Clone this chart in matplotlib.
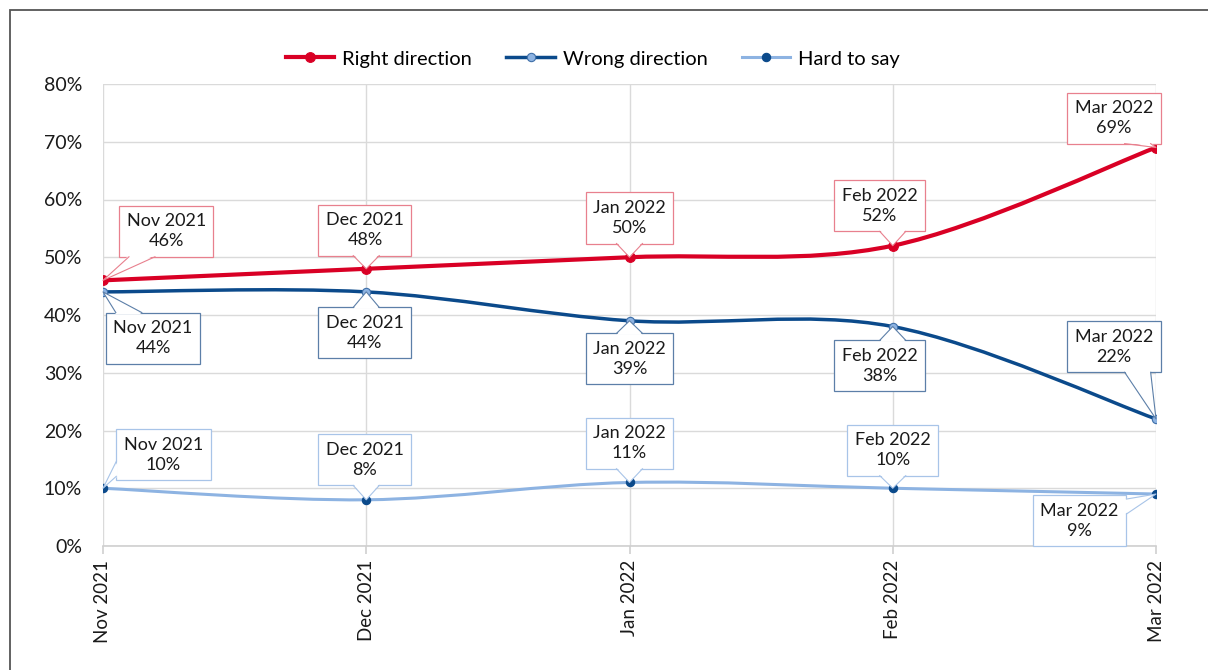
import matplotlib
matplotlib.use("Agg")
import matplotlib.pyplot as plt
from matplotlib.path import Path
from matplotlib.patches import PathPatch, Rectangle, Polygon
from matplotlib.lines import Line2D
import numpy as np

plt.rcParams['font.family'] = ['Lato', 'DejaVu Sans']

months = ["Nov 2021", "Dec 2021", "Jan 2022", "Feb 2022", "Mar 2022"]
right_direction = [46, 48, 50, 52, 69]
wrong_direction = [44, 44, 39, 38, 22]
hard_to_say = [10, 8, 11, 10, 9]
y_ticks = [0, 10, 20, 30, 40, 50, 60, 70, 80]

RED = "#D90025"
DARK = "#0B4A8B"
LIGHT = "#8DB3E2"

series = [
    ("Right direction", right_direction, RED, 3.0, RED, RED, "#E8808E"),
    ("Wrong direction", wrong_direction, DARK, 2.5, "#8DB3E2", "#3F6FA8", "#5C7FA8"),
    ("Hard to say", hard_to_say, LIGHT, 2.2, DARK, DARK, "#A8C4E8"),
]

# callout box centres (layout offsets, in data units)
callout_pos = [
    [(0.24, 54.5), (0.995, 54.7), (2.0, 56.8), (2.95, 58.9), (3.84, 74.1)],
    [(0.19, 36.0), (0.995, 36.9), (2.0, 32.4), (2.95, 31.2), (3.84, 34.5)],
    [(0.23, 15.8), (0.995, 14.9), (2.0, 17.8), (3.0, 16.6), (3.71, 4.4)],
]

fig = plt.figure(figsize=(12.08, 6.70), dpi=100)
fig.patches.append(Rectangle((10 / 1208, -0.1), 1.2, 1 - 10 / 670 + 0.1,
                             transform=fig.transFigure, fill=False,
                             ec="#555555", lw=1.3))
ax = fig.add_axes([103 / 1208, 1 - 546 / 670, (1156 - 103) / 1208, (546 - 84) / 670])

x = np.arange(len(months))


def smooth_path(xs, ys):
    pts = np.column_stack([xs, ys]).astype(float)
    n = len(pts)
    verts = [pts[0]]
    codes = [Path.MOVETO]
    for i in range(n - 1):
        p0 = pts[i - 1] if i > 0 else pts[i]
        p1 = pts[i]
        p2 = pts[i + 1]
        p3 = pts[i + 2] if i + 2 < n else pts[i + 1]
        c1 = p1 + (p2 - p0) / 6.0
        c2 = p2 - (p3 - p1) / 6.0
        verts += [c1, c2, p2]
        codes += [Path.CURVE4] * 3
    return Path(verts, codes)


handles = []
callouts = []
for (name, vals, col, lw, mfc, mec, boxc), cpos in zip(series, callout_pos):
    ax.add_patch(PathPatch(smooth_path(x, vals), fill=False, ec=col, lw=lw,
                           capstyle='round', joinstyle='round', zorder=3))
    ax.plot(x, vals, ls='none', marker='o', ms=7 if name == "Right direction" else 6,
            mfc=mfc, mec=mec, mew=0.8, zorder=4)
    handles.append(Line2D([], [], color=col, lw=lw, marker='o',
                          ms=7 if name == "Right direction" else 6,
                          mfc=mfc, mec=mec, mew=0.8))
    for xi, v, m, (bx, by) in zip(x, vals, months, cpos):
        t = ax.text(bx, by, f"{m}\n{v}%", ha='center', va='center', fontsize=13,
                    color="#1a1a1a", linespacing=1.3, zorder=6, clip_on=False,
                    bbox=dict(boxstyle="square,pad=0.42", fc='white', ec=boxc, lw=0.9))
        callouts.append((t, xi, v, boxc))

ax.set_xlim(0, len(months) - 1)
ax.set_ylim(0, 80)
ax.set_xticks(x)
ax.set_xticklabels(months, rotation=90, fontsize=13.5, color="#1a1a1a")
ax.set_yticks(y_ticks)
ax.set_yticklabels([f"{t}%" for t in y_ticks], fontsize=14, color="#1a1a1a")
ax.grid(True, color="#DADADA", lw=1.0)
ax.set_axisbelow(True)
for s in ['top', 'right', 'left']:
    ax.spines[s].set_visible(False)
ax.spines['bottom'].set_color("#CFCFCF")
ax.spines['bottom'].set_linewidth(1.2)
ax.tick_params(axis='y', length=0, pad=15)
ax.tick_params(axis='x', length=6, color="#CFCFCF", width=1.2, pad=4)

fig.legend(handles, [s[0] for s in series], loc='center', bbox_to_anchor=(593 / 1208, 1 - 59 / 670),
           ncol=3, frameon=False, fontsize=14.5, handlelength=2.4, columnspacing=1.7,
           handletextpad=0.4)

# callout pointers (wedges from box edge to the data point)
fig.canvas.draw()
renderer = fig.canvas.get_renderer()
inv = ax.transData.inverted()
BW, INSET, BH = 26.0, 10.0, 15.0
for t, xi, v, boxc in callouts:
    bb = t.get_bbox_patch().get_window_extent(renderer)
    px, py = ax.transData.transform((xi, v))
    dy_out = max(bb.y0 - py, py - bb.y1, 0)
    dx_out = max(bb.x0 - px, px - bb.x1, 0)
    if dy_out >= dx_out:
        ey = bb.y0 if py < bb.y0 else bb.y1
        cx = np.clip(px, bb.x0 + INSET + BW / 2, bb.x1 - INSET - BW / 2)
        b1, b2 = (cx - BW / 2, ey), (cx + BW / 2, ey)
        inward = (0, 1.5) if py < bb.y0 else (0, -1.5)
    else:
        ex = bb.x0 if px < bb.x0 else bb.x1
        cy = np.clip(py, bb.y0 + 4 + BH / 2, bb.y1 - 4 - BH / 2)
        b1, b2 = (ex, cy - BH / 2), (ex, cy + BH / 2)
        inward = (1.5, 0) if px < bb.x0 else (-1.5, 0)
    tri = np.array([b1, (px, py), b2])
    fill = np.array([(b1[0] + inward[0], b1[1] + inward[1]), (px, py),
                     (b2[0] + inward[0], b2[1] + inward[1])])
    ax.add_patch(Polygon(inv.transform(fill), closed=True, fc='white', ec='none',
                         zorder=7, clip_on=False))
    d = inv.transform(tri)
    ax.plot(d[:, 0], d[:, 1], color=boxc, lw=0.8, zorder=7.5, clip_on=False)

fig.savefig("out.png", dpi=100)
